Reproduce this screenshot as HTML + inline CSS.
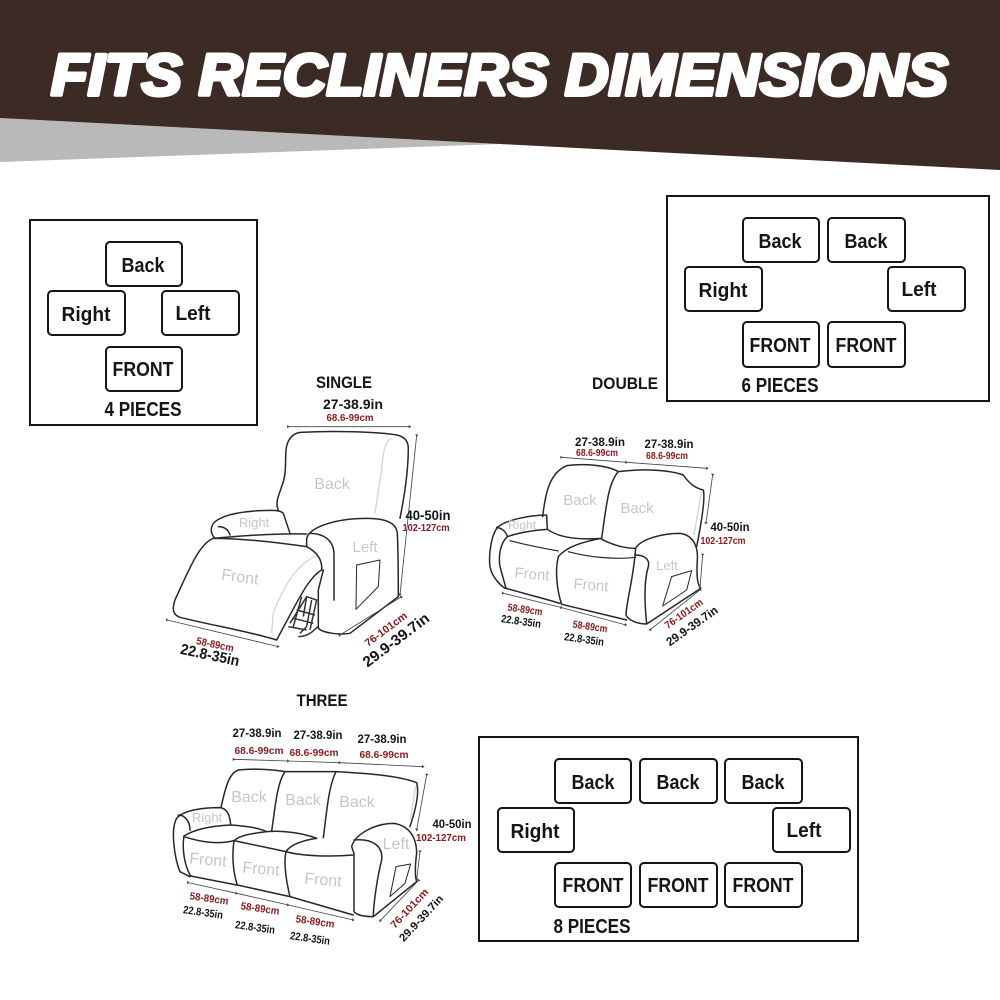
<!DOCTYPE html>
<html><head><meta charset="utf-8"><style>
html,body{margin:0;padding:0;background:#fff}
svg{display:block}
text{font-family:"Liberation Sans",sans-serif}
.t{font-weight:bold;font-size:20px;fill:#151515;text-anchor:middle}
.b{fill:#fff;stroke:#151515;stroke-width:2}
.f{fill:none;stroke:#151515;stroke-width:2}
.l{fill:none;stroke:#2b2626;stroke-width:4.5;stroke-linecap:round;stroke-linejoin:round}
.h{fill:none;stroke:#d4d4d4;stroke-width:4}
.d{fill:none;stroke:#444;stroke-width:2.5;marker-start:url(#a);marker-end:url(#a);marker-mid:url(#a)}
.g{fill:#c6c6c6;font-size:16px;text-anchor:middle}
.i{fill:#151515;font-weight:bold;font-size:13px;text-anchor:middle}
.c{fill:#8a1c20;font-weight:bold;font-size:10.5px;text-anchor:middle}
</style></head><body>
<svg width="1000" height="1000" viewBox="0 0 1000 1000" xmlns="http://www.w3.org/2000/svg">
<defs><marker id="a" viewBox="0 0 10 10" refX="5" refY="5" markerWidth="5" markerHeight="5" orient="auto"><path d="M2 1L8 5L2 9Z" fill="#444"/></marker></defs>
<rect width="1000" height="1000" fill="#fff"/>
<polygon points="0,118 500,144 0,162" fill="#b9b9b9"/>
<polygon points="0,0 1000,0 1000,170 0,118" fill="#3c2a25"/>
<text x="51" y="95" font-size="58" font-weight="bold" font-style="italic" fill="#fff" stroke="#fff" stroke-width="4" stroke-linejoin="round" textLength="897" lengthAdjust="spacingAndGlyphs">FITS RECLINERS DIMENSIONS</text>

<!-- 4 pieces -->
<rect class="f" x="30" y="220" width="227" height="205"/>
<rect class="b" x="106" y="242" width="76" height="44" rx="4"/>
<rect class="b" x="48" y="291" width="77" height="44" rx="4"/>
<rect class="b" x="162" y="291" width="77" height="44" rx="4"/>
<rect class="b" x="106" y="347" width="76" height="44" rx="4"/>
<text class="t" x="143" y="272" textLength="43" lengthAdjust="spacingAndGlyphs">Back</text>
<text class="t" x="86" y="321" textLength="49" lengthAdjust="spacingAndGlyphs">Right</text>
<text class="t" x="193" y="320" textLength="35" lengthAdjust="spacingAndGlyphs">Left</text>
<text class="t" x="143" y="376" textLength="61" lengthAdjust="spacingAndGlyphs">FRONT</text>
<text class="t" x="143" y="416" textLength="77" lengthAdjust="spacingAndGlyphs">4 PIECES</text>

<!-- 6 pieces -->
<rect class="f" x="667" y="196" width="322" height="205"/>
<rect class="b" x="743" y="218" width="76" height="44" rx="4"/>
<rect class="b" x="828" y="218" width="77" height="44" rx="4"/>
<rect class="b" x="685" y="267" width="77" height="44" rx="4"/>
<rect class="b" x="888" y="267" width="77" height="44" rx="4"/>
<rect class="b" x="743" y="322" width="76" height="45" rx="4"/>
<rect class="b" x="828" y="322" width="77" height="45" rx="4"/>
<text class="t" x="780" y="248" textLength="43" lengthAdjust="spacingAndGlyphs">Back</text>
<text class="t" x="866" y="248" textLength="43" lengthAdjust="spacingAndGlyphs">Back</text>
<text class="t" x="723" y="297" textLength="49" lengthAdjust="spacingAndGlyphs">Right</text>
<text class="t" x="919" y="296" textLength="35" lengthAdjust="spacingAndGlyphs">Left</text>
<text class="t" x="780" y="352" textLength="61" lengthAdjust="spacingAndGlyphs">FRONT</text>
<text class="t" x="866" y="352" textLength="61" lengthAdjust="spacingAndGlyphs">FRONT</text>
<text class="t" x="780" y="392" textLength="77" lengthAdjust="spacingAndGlyphs">6 PIECES</text>

<!-- 8 pieces -->
<rect class="f" x="479" y="737" width="379" height="204"/>
<rect class="b" x="555" y="759" width="76" height="44" rx="4"/>
<rect class="b" x="640" y="759" width="77" height="44" rx="4"/>
<rect class="b" x="725" y="759" width="77" height="44" rx="4"/>
<rect class="b" x="498" y="808" width="76" height="44" rx="4"/>
<rect class="b" x="773" y="808" width="77" height="44" rx="4"/>
<rect class="b" x="555" y="863" width="76" height="44" rx="4"/>
<rect class="b" x="640" y="863" width="77" height="44" rx="4"/>
<rect class="b" x="725" y="863" width="77" height="44" rx="4"/>
<text class="t" x="593" y="789" textLength="43" lengthAdjust="spacingAndGlyphs">Back</text>
<text class="t" x="678" y="789" textLength="43" lengthAdjust="spacingAndGlyphs">Back</text>
<text class="t" x="763" y="789" textLength="43" lengthAdjust="spacingAndGlyphs">Back</text>
<text class="t" x="535" y="838" textLength="49" lengthAdjust="spacingAndGlyphs">Right</text>
<text class="t" x="804" y="837" textLength="35" lengthAdjust="spacingAndGlyphs">Left</text>
<text class="t" x="593" y="892" textLength="61" lengthAdjust="spacingAndGlyphs">FRONT</text>
<text class="t" x="678" y="892" textLength="61" lengthAdjust="spacingAndGlyphs">FRONT</text>
<text class="t" x="763" y="892" textLength="61" lengthAdjust="spacingAndGlyphs">FRONT</text>
<text class="t" x="592" y="933" textLength="77" lengthAdjust="spacingAndGlyphs">8 PIECES</text>

<!-- SINGLE -->
<g transform="translate(150,370) scale(.3333)">
<path class="h" d="M725 205C705 215 700 240 695 300L675 430M505 555C440 580 400 650 370 730L365 790"/>
<path class="l" d="M385 420C375 400 385 380 395 350C410 310 405 290 408 240C412 205 430 190 450 187C550 182 680 185 740 195C765 200 775 215 775 235C775 300 765 370 750 445"/>
<path class="l" d="M420 490L400 430C390 420 370 420 330 422C270 425 220 435 195 455C180 470 180 490 195 505M205 470C225 470 235 480 240 495"/>
<path class="l" d="M470 492C400 490 300 495 190 505C150 520 120 590 75 690C65 720 70 735 90 742C180 765 300 785 380 810L420 735C450 680 480 620 515 600C518 570 500 545 470 530M190 505C280 505 400 520 470 530"/>
<path class="l" d="M470 505C480 470 560 445 650 445C710 445 740 460 742 490C745 550 745 620 745 680L600 790C570 795 520 790 505 775L505 660L520 600M470 505L470 530M480 490C520 490 550 510 552 550L552 690"/>
<path class="l" style="stroke-width:3" d="M620 585L690 570L685 650L618 718Z"/>
<path fill="none" stroke="#333" stroke-width="4.5" d="M420 760L470 680L500 690L480 780M440 720L495 735M455 680L430 770M445 800C470 800 490 785 503 770M415 770L470 780M470 680L460 740M485 690L470 770M430 745L490 760M450 790L470 770"/>
<path class="d" d="M415 170L780 170M800 197L750 675M570 795L755 680M52 750L385 830"/>
</g>
<text x="344" y="388" font-size="17" font-weight="bold" fill="#151515" text-anchor="middle" textLength="56" lengthAdjust="spacingAndGlyphs">SINGLE</text>
<text class="i" x="353" y="409" textLength="60" lengthAdjust="spacingAndGlyphs" style="font-size:14px">27-38.9in</text>
<text class="c" x="350" y="421" textLength="47" lengthAdjust="spacingAndGlyphs">68.6-99cm</text>
<text class="g" x="332" y="489">Back</text>
<text class="g" x="254" y="527" style="font-size:13px">Right</text>
<text class="g" x="365" y="552" style="font-size:15px">Left</text>
<text class="g" x="240" y="582" transform="rotate(8 240 577)">Front</text>
<text class="i" x="428" y="520" style="font-size:14px" textLength="45" lengthAdjust="spacingAndGlyphs">40-50in</text>
<text class="c" x="426" y="531" textLength="47" lengthAdjust="spacingAndGlyphs">102-127cm</text>
<text class="c" x="215" y="648" transform="rotate(12 215 645)" textLength="38" lengthAdjust="spacingAndGlyphs">58-89cm</text>
<text class="i" x="210" y="660" transform="rotate(12 210 655)" style="font-size:15px" textLength="60" lengthAdjust="spacingAndGlyphs">22.8-35in</text>
<text class="c" x="385" y="633" transform="rotate(-37 385 628)" textLength="50" lengthAdjust="spacingAndGlyphs">76-101cm</text>
<text class="i" x="396" y="645" transform="rotate(-37 396 640)" style="font-size:15px" textLength="79" lengthAdjust="spacingAndGlyphs">29.9-39.7in</text>

<!-- DOUBLE -->
<g transform="translate(470,420) scale(.3333)">
<path class="h" d="M695 215L672 345"/>
<path class="l" d="M218 290C225 230 235 160 290 137C340 130 410 135 445 155C415 190 410 250 395 355M445 155C520 145 600 150 640 165C660 195 680 205 700 210C705 230 700 280 680 380"/>
<path class="l" d="M230 285C180 285 110 300 85 320C65 340 55 400 60 440C65 470 90 495 105 505M230 285L232 328C190 330 140 340 112 350M80 322C100 325 110 340 112 350"/>
<path class="l" d="M112 350C90 370 85 410 90 440L108 505C160 520 220 535 270 550M232 328C270 355 330 360 395 355C340 365 290 380 265 410C255 450 260 510 275 553L470 600M395 358C430 375 460 385 497 385"/>
<path class="l" style="stroke-width:3.5" d="M120 362C170 375 220 385 265 393M295 395C350 410 430 420 497 412"/>
<path class="l" d="M497 385C510 360 570 340 630 340C670 345 685 380 682 420C680 460 680 490 692 505L530 612C500 612 475 600 468 585C470 540 490 480 497 385M497 405C525 405 540 420 535 440C520 490 525 560 530 612"/>
<path class="l" style="stroke-width:3" d="M605 470L665 452L650 510L578 558Z"/>
<path class="d" d="M275 112L470 127L712 145M728 165L708 310M698 405L690 505M690 510L540 630M100 520L275 563L468 615"/>
</g>
<text x="625" y="389" font-size="17" font-weight="bold" fill="#151515" text-anchor="middle" textLength="66" lengthAdjust="spacingAndGlyphs">DOUBLE</text>
<text class="i" x="600" y="446" textLength="50" lengthAdjust="spacingAndGlyphs" style="font-size:12px">27-38.9in</text>
<text class="i" x="669" y="448" textLength="49" lengthAdjust="spacingAndGlyphs" style="font-size:12px">27-38.9in</text>
<text class="c" x="597" y="456" textLength="42" lengthAdjust="spacingAndGlyphs">68.6-99cm</text>
<text class="c" x="667" y="459" textLength="42" lengthAdjust="spacingAndGlyphs">68.6-99cm</text>
<text class="g" x="580" y="505" style="font-size:15px">Back</text>
<text class="g" x="637" y="513" style="font-size:15px">Back</text>
<text class="g" x="522" y="529" style="font-size:12px">Right</text>
<text class="g" x="667" y="570" style="font-size:13px">Left</text>
<text class="g" x="532" y="579" style="font-size:15px" transform="rotate(5 532 575)">Front</text>
<text class="g" x="591" y="590" style="font-size:15px" transform="rotate(5 591 585)">Front</text>
<text class="i" x="730" y="531" textLength="39" lengthAdjust="spacingAndGlyphs" style="font-size:12px">40-50in</text>
<text class="c" x="723" y="544" textLength="45" lengthAdjust="spacingAndGlyphs">102-127cm</text>
<text class="c" x="525" y="613" transform="rotate(8 525 610)" textLength="35" lengthAdjust="spacingAndGlyphs">58-89cm</text>
<text class="c" x="590" y="630" transform="rotate(8 590 627)" textLength="35" lengthAdjust="spacingAndGlyphs">58-89cm</text>
<text class="i" x="521" y="625" transform="rotate(8 521 622)" style="font-size:11px" textLength="40" lengthAdjust="spacingAndGlyphs">22.8-35in</text>
<text class="i" x="584" y="643" transform="rotate(8 584 640)" style="font-size:11px" textLength="40" lengthAdjust="spacingAndGlyphs">22.8-35in</text>
<text class="c" x="684" y="617" transform="rotate(-35 684 614)" textLength="44" lengthAdjust="spacingAndGlyphs">76-101cm</text>
<text class="i" x="692" y="630" transform="rotate(-35 692 626)" style="font-size:12px" textLength="60" lengthAdjust="spacingAndGlyphs">29.9-39.7in</text>

<!-- THREE -->
<g transform="translate(160,720) scale(.3333)">
<path class="h" d="M770 195C760 215 760 260 750 300"/>
<path class="l" d="M183 262C195 210 205 160 235 150C280 145 340 148 375 155L528 155C610 160 710 165 770 188C778 215 770 260 750 320M375 155C350 190 345 270 335 333M528 155C505 200 500 280 490 353"/>
<path class="l" d="M212 315C210 285 200 265 180 263C130 263 70 270 50 295C30 330 45 420 60 455L90 470M55 285C75 285 90 305 90 330M212 315C150 318 100 330 72 348"/>
<path class="l" d="M72 348C65 390 75 440 92 468L230 495M72 350C120 365 170 375 222 362M212 315C260 318 300 325 320 335C280 340 240 345 222 362C215 410 220 460 232 495M222 362L378 395M320 335C370 330 430 340 470 355C430 360 390 375 378 395C370 430 380 490 390 530L580 585M378 395C430 410 520 410 580 405M232 495L390 530"/>
<path class="l" d="M575 380C585 340 650 310 700 310C745 315 770 350 770 400C765 440 765 470 770 485L640 590C610 590 590 585 582 575L582 400M575 380C580 395 582 400 582 400M582 360C640 355 670 380 665 420C650 480 640 560 640 590"/>
<path class="l" style="stroke-width:3" d="M708 440L752 432L735 490L690 530Z"/>
<path class="d" d="M222 118L385 123L540 128L790 140M800 165L770 330M780 395L770 480M775 482L660 603M85 488L230 520L385 555L580 600"/>
</g>
<text x="322" y="706" font-size="17" font-weight="bold" fill="#151515" text-anchor="middle" textLength="51" lengthAdjust="spacingAndGlyphs">THREE</text>
<text class="i" x="257" y="737" textLength="49" lengthAdjust="spacingAndGlyphs" style="font-size:12px">27-38.9in</text>
<text class="i" x="318" y="739" textLength="49" lengthAdjust="spacingAndGlyphs" style="font-size:12px">27-38.9in</text>
<text class="i" x="382" y="743" textLength="49" lengthAdjust="spacingAndGlyphs" style="font-size:12px">27-38.9in</text>
<text class="c" x="259" y="754" textLength="49" lengthAdjust="spacingAndGlyphs">68.6-99cm</text>
<text class="c" x="314" y="756" textLength="49" lengthAdjust="spacingAndGlyphs">68.6-99cm</text>
<text class="c" x="384" y="758" textLength="49" lengthAdjust="spacingAndGlyphs">68.6-99cm</text>
<text class="g" x="249" y="802">Back</text>
<text class="g" x="303" y="805">Back</text>
<text class="g" x="357" y="807">Back</text>
<text class="g" x="207" y="822" style="font-size:13px">Right</text>
<text class="g" x="396" y="849" style="font-size:16px">Left</text>
<text class="g" x="208" y="865" transform="rotate(5 208 860)">Front</text>
<text class="g" x="261" y="874" transform="rotate(5 261 869)">Front</text>
<text class="g" x="323" y="885" transform="rotate(5 323 880)">Front</text>
<text class="i" x="452" y="828" textLength="39" lengthAdjust="spacingAndGlyphs" style="font-size:12px">40-50in</text>
<text class="c" x="441" y="841" textLength="50" lengthAdjust="spacingAndGlyphs">102-127cm</text>
<text class="c" x="209" y="902" transform="rotate(8 209 899)" textLength="39" lengthAdjust="spacingAndGlyphs">58-89cm</text>
<text class="c" x="260" y="912" transform="rotate(8 260 909)" textLength="39" lengthAdjust="spacingAndGlyphs">58-89cm</text>
<text class="c" x="315" y="925" transform="rotate(8 315 922)" textLength="39" lengthAdjust="spacingAndGlyphs">58-89cm</text>
<text class="i" x="203" y="916" transform="rotate(8 203 913)" style="font-size:11px" textLength="40" lengthAdjust="spacingAndGlyphs">22.8-35in</text>
<text class="i" x="255" y="931" transform="rotate(8 255 928)" style="font-size:11px" textLength="40" lengthAdjust="spacingAndGlyphs">22.8-35in</text>
<text class="i" x="310" y="942" transform="rotate(8 310 939)" style="font-size:11px" textLength="40" lengthAdjust="spacingAndGlyphs">22.8-35in</text>
<text class="c" x="409" y="912" transform="rotate(-47 409 908)" textLength="50" lengthAdjust="spacingAndGlyphs">76-101cm</text>
<text class="i" x="421" y="922" transform="rotate(-47 421 918)" style="font-size:11px" textLength="59" lengthAdjust="spacingAndGlyphs">29.9-39.7in</text>
</svg>
</body></html>
